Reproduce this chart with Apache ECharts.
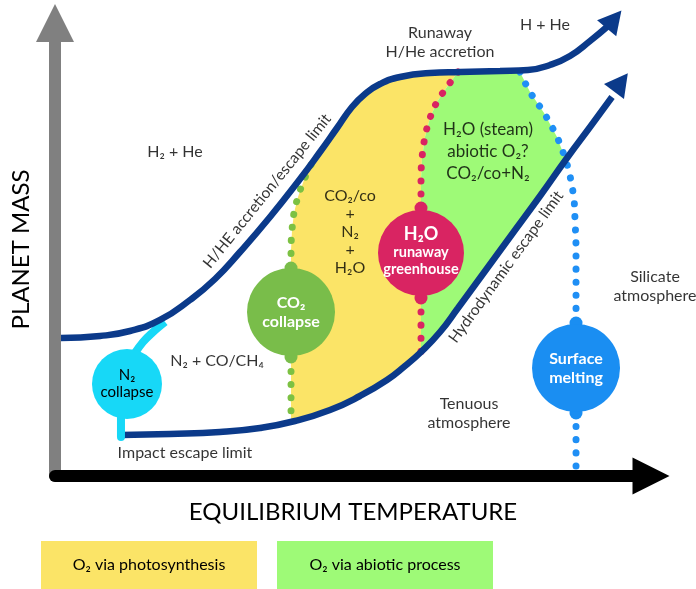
<!DOCTYPE html>
<html>
<head>
<meta charset="utf-8">
<script src="https://cdn.jsdelivr.net/npm/echarts@6/dist/echarts.min.js"></script>
<style>
html, body { margin: 0; padding: 0; background: #fff; }
#chart { width: 696px; height: 589px; }
</style>
</head>
<body>
<div id="chart"></div>
<script>
// diagram units: equilibrium temperature 0-100 (x), planet mass 0-100 (y)
var hheLimit = [[1.01,30.46],[7.55,30.91],[12.58,32.01],[17.62,34.44],[22.65,38.85],[26.85,43.49],
  [31.04,49.45],[36.07,57.17],[41.11,65.56],[44.46,71.52],[47.32,76.82],[49.83,81.46],[52.01,84.33],
  [54.53,86.53],[57.89,88.08],[62.92,88.96],[67.95,89.18],[74.66,89.40],[79.36,89.62],[83.05,90.73],
  [86.41,92.72],[89.77,96.03],[92.79,99.34]];
var lowerLimit = [[11.24,9.05],[19.30,9.27],[27.68,9.71],[34.40,10.60],[40.27,12.14],[46.14,14.57],
  [51.17,17.66],[55.70,21.19],[58.72,24.28],[61.41,27.37],[64.60,31.79],[67.62,37.09],[71.31,43.71],
  [76.34,52.76],[81.38,61.81],[85.91,70.20],[89.77,77.04],[93.46,83.66]];
var co2Line = [[42.95,68.65],[41.78,65.34],[40.77,61.59],[40.10,58.06],[39.77,54.30],[39.60,49.89],[39.60,12.14]];
var h2oLine = [[67.62,89.18],[65.77,85.87],[64.09,82.56],[62.92,79.03],[62.08,74.83],[61.58,70.20],
  [61.41,65.34],[61.41,60.93],[61.41,27.37]];
var meltLine = [[78.02,89.18],[79.70,84.77],[82.05,80.13],[84.23,74.83],[85.57,70.20],[86.41,66.23],
  [87.08,60.93],[87.25,56.51],[87.42,49.89],[87.42,1.32]];
var n2Link = [[13.42,27.15],[14.77,29.58],[16.28,31.57],[18.46,34.00]];
var n2Stem = [[11.07,13.02],[11.07,8.61]];
var arrowTips = [[93.80,100.80],[94.95,86.90]];

var bubbleNames = ['N₂\ncollapse', 'CO₂\ncollapse', 'H₂O\nrunaway\ngreenhouse', 'Surface\nmelting'];
var bubbleAt = [[12.08,20.31],[39.60,36.20],[61.41,49.23],[87.42,23.84]];
var nubAt = [[39.60,45.92],[39.60,26.27],[61.41,59.16],[61.41,39.29],[87.42,33.77],[87.42,13.91]];

var regionLabels = ['Runaway\nH/He accretion', 'H + He', 'H₂ + He', 'CO₂/co\n+\nN₂\n+\nH₂O',
  'H₂O (steam)\nabiotic O₂?\nCO₂/co+N₂', 'N₂ + CO/CH₄', 'Silicate\natmosphere', 'Tenuous\natmosphere',
  'Impact escape limit'];
var regionLabelAt = [[64.60,95.81],[82.21,99.56],[20.13,71.52],[49.50,53.97],[72.65,71.52],
  [27.18,25.39],[100.67,41.94],[69.46,13.91],[21.81,5.08]];
var limitLabels = ['H/HE accretion/escape limit', 'Hydrodynamic escape limit'];
var limitLabelAt = [[35.60,62.90],[75.67,46.14]];
var legendNames = ['O₂ via photosynthesis', 'O₂ via abiotic process'];

var FONT = "Lato, 'Noto Sans', sans-serif";
var NAVY = '#0b3a8a';
var INK = '#000';

function between(curve, a, b) {
  return curve.filter(function (p) { return p[0] > a && p[0] < b; });
}
function last(a) { return a[a.length - 1]; }

// yellow: between CO2 collapse and runaway greenhouse
var yellowZone = co2Line
  .concat(between(lowerLimit, last(co2Line)[0], last(h2oLine)[0]))
  .concat(h2oLine.slice().reverse())
  .concat(between(hheLimit, co2Line[0][0], h2oLine[0][0]).reverse());
// green: between runaway greenhouse and surface melting line
var meltTop = meltLine.slice(0, 5);
var greenZone = h2oLine
  .concat(between(lowerLimit, last(h2oLine)[0], last(meltTop)[0]))
  .concat(meltTop.slice().reverse())
  .concat(between(hheLimit, meltLine[0][0], h2oLine[0][0]).reverse());

function zone(points, color) {
  return {
    type: 'custom', coordinateSystem: 'cartesian2d', silent: true, z: 1, clip: false,
    data: [0],
    renderItem: function (params, api) {
      return {
        type: 'polygon',
        shape: { points: points.map(function (p) { return api.coord(p); }) },
        style: { fill: color }
      };
    }
  };
}
function dotted(data, color) {
  return {
    type: 'line', data: data, smooth: 0.4, showSymbol: false, silent: true, z: 2, clip: false,
    lineStyle: { color: color, width: 7, type: [0.1, 13], cap: 'round' }
  };
}
function limit(data) {
  return {
    type: 'line', data: data, smooth: 0.5, showSymbol: false, silent: true, z: 3, clip: false,
    lineStyle: { color: NAVY, width: 6.5 }
  };
}

var bubbleColors = ['#17d8f7', '#79bd4a', '#d92462', '#1a8ef2'];
var nubColors = ['#79bd4a', '#79bd4a', '#d92462', '#d92462', '#1a8ef2', '#1a8ef2'];

var chart = echarts.init(document.getElementById('chart'));
chart.setOption({
  backgroundColor: '#fff',
  animation: false,
  grid: { left: 55, top: 23, width: 596, height: 453, containLabel: false, outerBoundsMode: 'none' },
  xAxis: {
    type: 'value', min: 0, max: 100, z: 1,
    name: 'EQUILIBRIUM TEMPERATURE', nameLocation: 'middle', nameGap: 24,
    nameTextStyle: { fontSize: 24, color: INK, fontFamily: FONT },
    axisLine: { lineStyle: { color: '#000', width: 12, cap: 'round' }, symbol: ['none', 'triangle'], symbolSize: [37, 37] },
    axisTick: { show: false }, axisLabel: { show: false }, splitLine: { show: false }
  },
  yAxis: {
    type: 'value', min: 0, max: 100, z: 0,
    name: 'PLANET MASS', nameLocation: 'middle', nameGap: 22,
    nameTextStyle: { fontSize: 24, color: INK, fontFamily: FONT },
    axisLine: { lineStyle: { color: '#808080', width: 12 }, symbol: ['none', 'triangle'], symbolSize: [38, 38] },
    axisTick: { show: false }, axisLabel: { show: false }, splitLine: { show: false }
  },
  graphic: legendNames.map(function (name, i) {
    return {
      type: 'group', left: i ? 277 : 41, top: 541,
      children: [
        { type: 'rect', shape: { x: 0, y: 0, width: 216, height: 48 }, style: { fill: i ? '#9efa77' : '#fbe467' } },
        { type: 'text', x: 108, y: 24, style: { text: name, font: '16px ' + FONT, fill: INK,
          textAlign: 'center', textVerticalAlign: 'middle', align: 'center', verticalAlign: 'middle' } }
      ]
    };
  }),
  series: [
    zone(yellowZone, '#fbe467'),
    zone(greenZone, '#9efa77'),
    dotted(co2Line, '#7cc142'),
    dotted(h2oLine, '#d92462'),
    dotted(meltLine, '#1f8ff5'),
    {
      type: 'line', data: n2Link, smooth: 0.4, showSymbol: false, silent: true, z: 2, clip: false,
      lineStyle: { color: '#17d8f7', width: 8 }
    },
    limit(hheLimit),
    limit(lowerLimit),
    {
      type: 'scatter', silent: true, z: 3, clip: false, symbol: 'triangle', symbolSize: [25, 23],
      itemStyle: { color: NAVY, opacity: 1 },
      data: [
        { value: arrowTips[0], symbolRotate: -40 },
        { value: arrowTips[1], symbolRotate: -37 }
      ]
    },
    {
      type: 'line', data: n2Stem, showSymbol: false, silent: true, z: 4, clip: false,
      lineStyle: { color: '#17d8f7', width: 8, cap: 'round' }
    },
    {
      type: 'scatter', silent: true, z: 4, clip: false, symbolSize: 13,
      data: nubAt.map(function (p, i) { return { value: p, itemStyle: { color: nubColors[i], opacity: 1 } }; })
    },
    {
      type: 'scatter', silent: true, z: 4, clip: false,
      data: bubbleAt.map(function (p, i) {
        return {
          value: p, name: bubbleNames[i],
          symbolSize: [70, 88, 86, 88][i],
          itemStyle: { color: bubbleColors[i], opacity: 1 },
          label: {
            show: true, position: 'inside', fontFamily: FONT, fontWeight: i === 0 ? 'normal' : 'bold',
            color: i === 0 ? INK : '#fff',
            fontSize: i === 0 ? 15 : 16, lineHeight: i === 0 ? 17 : 19,
            offset: i === 2 ? [0, -2] : [0, 0],
            formatter: i === 2 ? '{a|H₂O}\n{b|runaway}\n{b|greenhouse}' : '{b}',
            rich: {
              a: { fontSize: 18, lineHeight: 20, color: '#fff', fontFamily: FONT, fontWeight: 'bold' },
              b: { fontSize: 14.5, lineHeight: 17, color: '#fff', fontFamily: FONT, fontWeight: 'bold' }
            }
          }
        };
      })
    },
    {
      type: 'scatter', silent: true, z: 5, clip: false, symbolSize: 1,
      itemStyle: { color: 'transparent' },
      label: { show: true, position: 'inside', formatter: '{b}', color: INK, fontFamily: FONT, fontSize: 16, lineHeight: 19 },
      data: regionLabels.map(function (t, i) {
        var d = { value: regionLabelAt[i], name: t };
        if (i === 3) d.label = { lineHeight: 18 };
        if (i === 4) d.label = { fontSize: 17, lineHeight: 22 };
        return d;
      })
    },
    {
      type: 'scatter', silent: true, z: 5, clip: false, symbolSize: 1,
      itemStyle: { color: 'transparent' },
      label: { show: true, position: 'inside', formatter: '{b}', color: INK, fontFamily: FONT, fontSize: 15.5 },
      data: [
        { value: limitLabelAt[0], name: limitLabels[0], label: { rotate: 51 } },
        { value: limitLabelAt[1], name: limitLabels[1], label: { rotate: 54 } }
      ]
    }
  ]
});
</script>
</body>
</html>
